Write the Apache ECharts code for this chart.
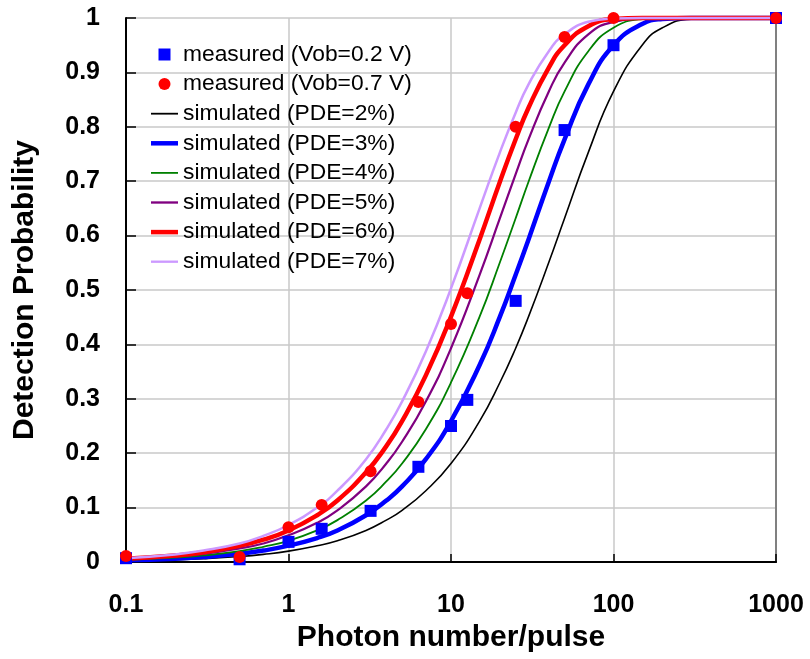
<!DOCTYPE html>
<html>
<head>
<meta charset="utf-8">
<script src="https://cdn.jsdelivr.net/npm/echarts@6/dist/echarts.min.js"></script>
<style>
html,body{margin:0;padding:0;background:#fff;}
#chart{width:810px;height:659px;}
</style>
</head>
<body>
<div id="chart"></div>
<script>
// ---- data ----
const measX = [0.1, 0.5, 1, 1.6, 3.2, 6.3, 10, 12.6, 25, 50, 100, 1000];
const measLow = [0.007, 0.005, 0.037, 0.061, 0.094, 0.175, 0.25, 0.298, 0.48, 0.794, 0.95, 1.0];   // Vob=0.2 V
const measHigh = [0.011, 0.009, 0.064, 0.105, 0.167, 0.294, 0.4375, 0.494, 0.80, 0.965, 1.0, 1.0]; // Vob=0.7 V

const simX = [0.1, 0.2, 0.3, 0.5, 0.7, 1, 1.5, 2, 3, 4, 5, 7, 10, 15, 20, 25, 30, 40, 50, 70, 100, 150, 200, 300, 500, 1000];
const sim2 = [0.002, 0.004, 0.006, 0.010, 0.014, 0.020, 0.030, 0.039, 0.058, 0.077, 0.095, 0.131, 0.181, 0.259, 0.330, 0.393, 0.451, 0.551, 0.632, 0.753, 0.865, 0.950, 0.982, 0.998, 1.000, 1.000];
const sim3 = [0.003, 0.006, 0.009, 0.015, 0.021, 0.030, 0.044, 0.058, 0.086, 0.113, 0.139, 0.189, 0.259, 0.362, 0.451, 0.528, 0.593, 0.699, 0.777, 0.878, 0.950, 0.989, 0.998, 1.000, 1.000, 1.000];
const sim4 = [0.004, 0.008, 0.012, 0.020, 0.028, 0.039, 0.058, 0.077, 0.113, 0.148, 0.181, 0.244, 0.330, 0.451, 0.551, 0.632, 0.699, 0.798, 0.865, 0.939, 0.982, 0.998, 1.000, 1.000, 1.000, 1.000];
const sim5 = [0.005, 0.010, 0.015, 0.025, 0.034, 0.049, 0.072, 0.095, 0.139, 0.181, 0.221, 0.295, 0.393, 0.528, 0.632, 0.713, 0.777, 0.865, 0.918, 0.970, 0.993, 0.999, 1.000, 1.000, 1.000, 1.000];
const sim6 = [0.006, 0.012, 0.018, 0.030, 0.041, 0.058, 0.086, 0.113, 0.165, 0.213, 0.259, 0.343, 0.451, 0.593, 0.699, 0.777, 0.835, 0.909, 0.950, 0.985, 0.998, 1.000, 1.000, 1.000, 1.000, 1.000];
const sim7 = [0.007, 0.014, 0.021, 0.034, 0.048, 0.068, 0.100, 0.131, 0.189, 0.244, 0.295, 0.387, 0.503, 0.650, 0.753, 0.826, 0.878, 0.939, 0.970, 0.993, 0.999, 1.000, 1.000, 1.000, 1.000, 1.000];

const names = {
  mLow: 'measured (Vob=0.2 V)',
  mHigh: 'measured (Vob=0.7 V)',
  s2: 'simulated (PDE=2%)',
  s3: 'simulated (PDE=3%)',
  s4: 'simulated (PDE=4%)',
  s5: 'simulated (PDE=5%)',
  s6: 'simulated (PDE=6%)',
  s7: 'simulated (PDE=7%)'
};
const xTicks = [0.1, 1, 10, 100, 1000];

const FONT = '"Liberation Sans", Arial, sans-serif';
const pair = (xs, ys) => xs.map((x, i) => [x, ys[i]]);

function simSeries(name, ys, color, width) {
  return {
    name, type: 'line', data: pair(simX, ys),
    showSymbol: false, symbol: 'none',
    smooth: 0.5,
    clip: false,
    lineStyle: { color, width },
    itemStyle: { color },
    z: 2
  };
}
const thinIcon = 'path://M0,0H30V2H0Z';
const midIcon = 'path://M0,0H30V2.6H0Z';
const thickIcon = 'path://M0,0H30V5H0Z';

const chart = echarts.init(document.getElementById('chart'), null, { renderer: 'canvas' });
chart.setOption({
  animation: false,
  backgroundColor: '#fff',
  textStyle: { fontFamily: FONT },
  grid: { left: 126, right: 34, top: 18, bottom: 97, containLabel: false },
  legend: {
    orient: 'vertical',
    left: 146, top: 38,
    itemWidth: 27, itemHeight: 12,
    itemGap: 6.6,
    symbolKeepAspect: true,
    textStyle: { fontSize: 22.8, lineHeight: 22, color: '#000', fontFamily: FONT },
    data: [
      { name: names.mLow, icon: 'path://M0,0H12V12H0Z' },
      { name: names.mHigh, icon: 'circle' },
      { name: names.s2, icon: thinIcon },
      { name: names.s3, icon: thickIcon },
      { name: names.s4, icon: thinIcon },
      { name: names.s5, icon: midIcon },
      { name: names.s6, icon: thickIcon },
      { name: names.s7, icon: midIcon }
    ]
  },
  xAxis: [{
    type: 'log', logBase: 10, min: 0.1, max: 1000,
    name: 'Photon number/pulse', nameLocation: 'middle', nameGap: 61,
    nameTextStyle: { fontSize: 30, fontWeight: 'bold', color: '#000', fontFamily: FONT },
    axisLine: { show: true, lineStyle: { color: '#000', width: 2 } },
    axisTick: { show: true, inside: true, length: 8, lineStyle: { color: '#000', width: 1.5 } },
    axisLabel: {
      fontSize: 25, fontWeight: 'bold', color: '#000', margin: 31, fontFamily: FONT,
      formatter: v => { const t = xTicks.find(k => Math.abs(k - v) / k < 1e-6); return t === undefined ? '' : String(t); }
    },
    splitLine: { show: true, lineStyle: { color: '#c8c8c8', width: 1.5 } },
    minorTick: { show: false }
  }, {
    type: 'log', logBase: 10, min: 0.1, max: 1000, position: 'top',
    axisLine: { show: true, lineStyle: { color: '#000', width: 1.2 } },
    axisTick: { show: false }, axisLabel: { show: false }, splitLine: { show: false }
  }],
  yAxis: [{
    type: 'value', min: 0, max: 1, interval: 0.1,
    name: 'Detection Probability', nameLocation: 'middle', nameGap: 86, nameRotate: 90,
    nameTextStyle: { fontSize: 30, fontWeight: 'bold', color: '#000', fontFamily: FONT },
    axisLine: { show: true, lineStyle: { color: '#000', width: 2 } },
    axisTick: { show: true, inside: true, length: 10, lineStyle: { color: '#000', width: 1.5 } },
    axisLabel: { fontSize: 25, fontWeight: 'bold', color: '#000', margin: 26, fontFamily: FONT },
    splitLine: { show: true, lineStyle: { color: '#c8c8c8', width: 1.5 } }
  }, {
    type: 'value', min: 0, max: 1, position: 'right',
    axisLine: { show: true, lineStyle: { color: '#808080', width: 2 } },
    axisTick: { show: false }, axisLabel: { show: false }, splitLine: { show: false }
  }],
  series: [
    simSeries(names.s2, sim2, '#000000', 1.6),
    simSeries(names.s3, sim3, '#0000ff', 4.5),
    simSeries(names.s4, sim4, '#008000', 1.8),
    simSeries(names.s5, sim5, '#800080', 2.2),
    simSeries(names.s6, sim6, '#ff0000', 4.5),
    simSeries(names.s7, sim7, '#cc99ff', 2.5),
    {
      name: names.mLow, type: 'scatter', data: pair(measX, measLow),
      symbol: 'rect', symbolSize: 12, clip: false,
      itemStyle: { color: '#0000ff', opacity: 1 }, z: 5
    },
    {
      name: names.mHigh, type: 'scatter', data: pair(measX, measHigh),
      symbol: 'circle', symbolSize: 12, clip: false,
      itemStyle: { color: '#ff0000', opacity: 1 }, z: 6
    }
  ]
});
</script>
</body>
</html>
